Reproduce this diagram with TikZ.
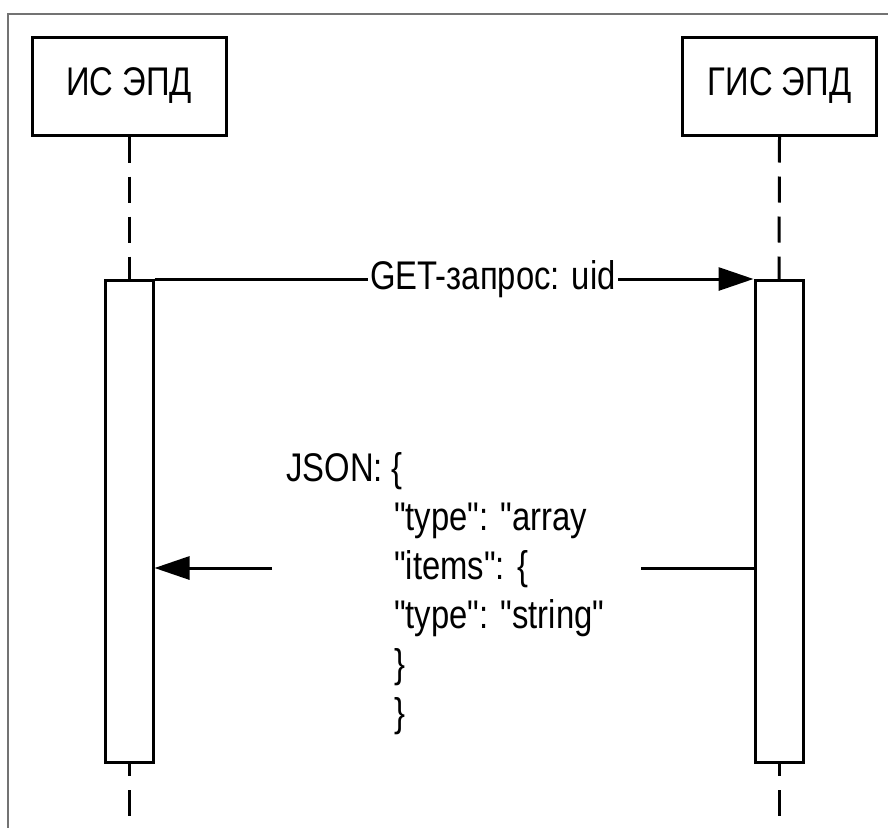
\documentclass[tikz,border=0pt]{standalone}
\usepackage{fontspec}
\setmainfont[FakeStretch=0.82, Ligatures=TeXOff]{Liberation Sans}
\usetikzlibrary{arrows.meta}
\tikzset{
  actor/.style={draw, line width=3pt, minimum width=194pt, minimum height=98pt, inner sep=0pt, font=\fontsize{40}{48}\selectfont},
  actbar/.style={draw, line width=3pt, fill=white, minimum width=48pt, minimum height=482pt, inner sep=0pt},
  lifeline/.style={line width=3pt, dash pattern=on 26pt off 14pt},
  msg/.style={line width=3pt},
  tip/.style={-{Triangle[length=35pt,width=23pt]}},
  lbl/.style={font=\fontsize{40}{48}\selectfont, fill=white, inner xsep=2pt, inner ysep=2pt},
  frame/.style={draw=black!55, line width=1.5pt}
}
\begin{document}
\begin{tikzpicture}[x=1pt,y=-1pt]
\useasboundingbox (0,0) rectangle (888,827);
\fill[white] (0,0) rectangle (888,827);
\draw[frame] (8,830) -- (8,14) -- (890,14);
% actors
\node[actor] (A) at (129,86) {ИС ЭПД};
\node[actor] (B) at (779.5,86) {ГИС ЭПД};
% activation bars
\node[actbar, anchor=north] (la) at (129,279) {};
\node[actbar, anchor=north] (ra) at (779,279) {};
% lifelines
\draw[lifeline] (A.south) -- (la.north);
\draw[lifeline] (B.south) -- (ra.north);
\coordinate (aend) at (129,827);
\coordinate (bend) at (779,827);
\draw[lifeline, dash phase=14pt] (la.south) -- (aend);
\draw[lifeline, dash phase=14pt] (ra.south) -- (bend);
% request
\draw[msg, tip] (la.north east) -- node[lbl, pos=0.565] (req) {GET-запрос: uid} (ra.north west);
% response
\coordinate (gapR) at (641,568);
\coordinate (gapL) at (272,568);
\draw[msg] (ra.west |- gapR) -- (gapR);
\draw[msg, tip] (gapL) -- (la.east |- gapL);
\node[font=\fontsize{40}{49}\selectfont, align=left, anchor=north west, inner sep=0pt] (json) at (286,452)
  {JSON: \{\\
   \hspace*{108pt}"type": "array\\
   \hspace*{108pt}"items": \{\\
   \hspace*{108pt}"type": "string"\\
   \hspace*{108pt}\}\\
   \hspace*{108pt}\}};
\end{tikzpicture}
\end{document}
